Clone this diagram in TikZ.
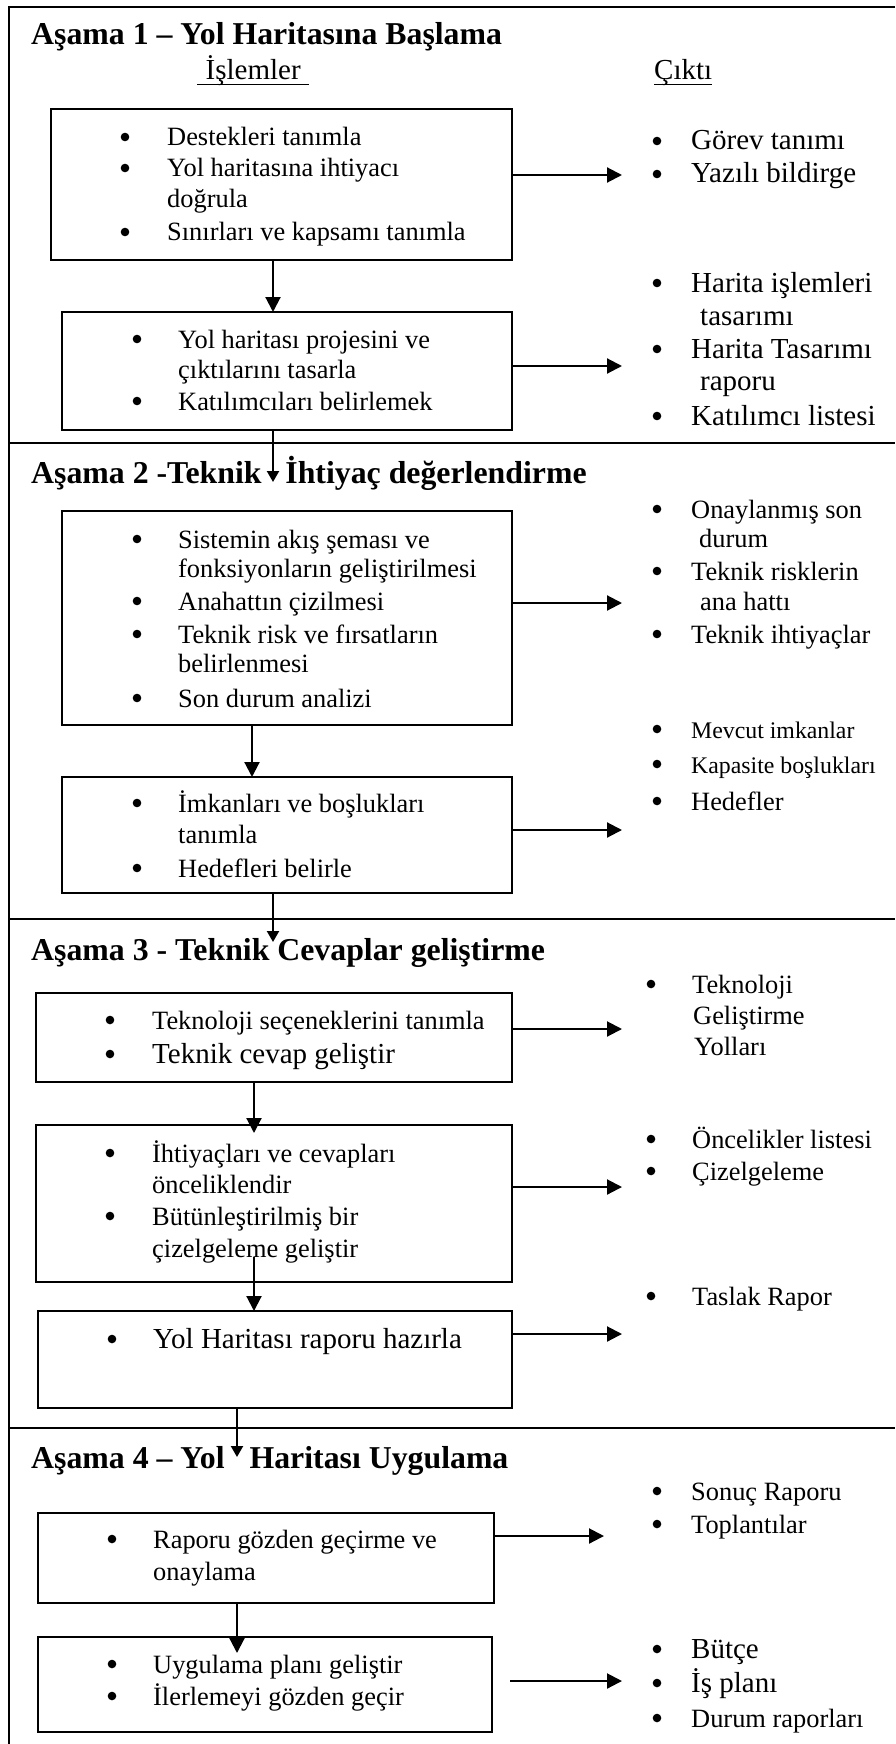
\documentclass[tikz,border=0pt]{standalone}
\usepackage{fontspec}
\setmainfont{Liberation Serif}
\usetikzlibrary{arrows.meta}

% type sizes used in the chart
\newcommand\Sz{\fontsize{26.4}{31}\selectfont}
\newcommand\Lz{\fontsize{29}{34}\selectfont}
\newcommand\Tz{\fontsize{23.8}{28}\selectfont}

\tikzset{
  frameline/.style={line width=2.8pt},
  stagebox/.style={draw, line width=1.9pt, anchor=north west, inner sep=0pt, outer sep=0pt},
  heading/.style={anchor=base west, inner sep=0pt, font=\fontsize{31.8}{38}\selectfont\bfseries},
  colhead/.style={anchor=base west, inner ysep=0pt, inner xsep=0pt, font=\Lz},
  txt/.style={anchor=base west, inner sep=0pt, font=\Sz},
  big/.style={font=\Lz},
  small/.style={font=\Tz},
  dot/.style={circle, fill, inner sep=0pt, minimum size=8.6pt},
  flow/.style={line width=2.1pt, -{Triangle[length=15pt,width=15pt]}},
  flowsmall/.style={line width=2.1pt, -{Triangle[length=11pt,width=12pt]}},
  ulin/.style={line width=1.5pt},
}

% bulleted line: [options] name, bullet x, text x, baseline, text
\newcommand\bitem[6][]{%
  \node[dot] (#2d) at (#3,#5-9) {};
  \node[txt,#1] (#2) at (#4,#5) {#6};}
% continuation line: [options] name, x, baseline, text
\newcommand\contline[5][]{%
  \node[txt,#1] (#2) at (#3,#4) {#5};}

\begin{document}
\begin{tikzpicture}[x=1pt, y=-1pt]
\useasboundingbox (0,0) rectangle (895,1744);

% outer frame and stage dividers
\draw[frameline] (895,7) -- (9,7) -- (9,1744);
\draw[frameline] (9,443) -- (895,443);
\draw[frameline] (9,919) -- (895,919);
\draw[frameline] (9,1428) -- (895,1428);

% ---------------- Stage 1 ----------------
\node[heading] (s1) at (31,45) {Aşama 1 – Yol Haritasına Başlama};
\node[colhead, inner xsep=8.5pt] (islem) at (197,80) {İşlemler};
\node[colhead] (cikti) at (654,80) {Çıktı};
\draw[ulin] ([yshift=-4.3pt]islem.base west) -- ([yshift=-4.3pt]islem.base east);
\draw[ulin] ([yshift=-4.3pt]cikti.base west) -- ([yshift=-4.3pt]cikti.base east);

\node[stagebox, minimum width=461pt, minimum height=151pt] (b1) at (51,109) {};
\bitem{p1a}{125}{167}{146}{Destekleri tanımla}
\bitem{p1b}{125}{167}{177}{Yol haritasına ihtiyacı}
\contline{p1c}{167}{208}{doğrula}
\bitem{p1d}{125}{167}{241}{Sınırları ve kapsamı tanımla}

\node[stagebox, minimum width=450pt, minimum height=118pt] (b2) at (62,312) {};
\bitem{p2a}{137}{178}{348}{Yol haritası projesini ve}
\contline{p2b}{178}{378}{çıktılarını tasarla}
\bitem{p2c}{137}{178}{410}{Katılımcıları belirlemek}

\bitem[big]{o1a}{657}{691}{150}{Görev tanımı}
\bitem[big]{o1b}{657}{691}{183}{Yazılı bildirge}

\bitem[big]{o2a}{657}{691}{292}{Harita işlemleri}
\contline[big]{o2b}{700}{325}{tasarımı}
\bitem[big]{o2c}{657}{691}{358}{Harita Tasarımı}
\contline[big]{o2d}{700}{390}{raporu}
\bitem[big]{o2e}{657}{691}{425}{Katılımcı listesi}

% ---------------- Stage 2 ----------------
\node[heading] (s2) at (31,483) {Aşama 2 -Teknik\hspace{16pt} İhtiyaç değerlendirme};

\node[stagebox, minimum width=450pt, minimum height=214pt] (b3) at (62,511) {};
\bitem{p3a}{137}{178}{548}{Sistemin akış şeması ve}
\contline{p3b}{178}{577}{fonksiyonların geliştirilmesi}
\bitem{p3c}{137}{178}{610}{Anahattın çizilmesi}
\bitem{p3d}{137}{178}{643}{Teknik risk ve fırsatların}
\contline{p3e}{178}{672}{belirlenmesi}
\bitem{p3f}{137}{178}{707}{Son durum analizi}

\node[stagebox, minimum width=450pt, minimum height=116pt] (b4) at (62,777) {};
\bitem{p4a}{137}{178}{812}{İmkanları ve boşlukları}
\contline{p4b}{178}{843}{tanımla}
\bitem{p4c}{137}{178}{877}{Hedefleri belirle}

\bitem{o3a}{657}{691}{518}{Onaylanmış son}
\contline{o3b}{699}{547}{durum}
\bitem{o3c}{657}{691}{580}{Teknik risklerin}
\contline{o3d}{700}{610}{ana hattı}
\bitem{o3e}{657}{691}{643}{Teknik ihtiyaçlar}

\bitem[small]{o4a}{657}{691}{738}{Mevcut imkanlar}
\bitem[small]{o4b}{657}{691}{773}{Kapasite boşlukları}
\bitem{o4c}{657}{691}{810}{Hedefler}

% ---------------- Stage 3 ----------------
\node[heading] (s3) at (31,960) {Aşama 3 - Teknik Cevaplar geliştirme};

\node[stagebox, minimum width=476pt, minimum height=89pt] (b5) at (36,993) {};
\bitem{p5a}{110}{152}{1029}{Teknoloji seçeneklerini tanımla}
\bitem[big]{p5b}{110}{152}{1063}{Teknik cevap geliştir}

\node[stagebox, minimum width=476pt, minimum height=157pt] (b6) at (36,1125) {};
\bitem{p6a}{110}{152}{1162}{İhtiyaçları ve cevapları}
\contline{p6b}{152}{1193}{önceliklendir}
\bitem{p6c}{110}{152}{1225}{Bütünleştirilmiş bir}
\contline{p6d}{152}{1257}{çizelgeleme geliştir}

\node[stagebox, minimum width=474pt, minimum height=97pt] (b7) at (38,1311) {};
\bitem[big]{p7a}{112}{153}{1348}{Yol Haritası raporu hazırla}

\bitem{o5a}{651}{692}{993}{Teknoloji}
\contline{o5b}{693}{1024}{Geliştirme}
\contline{o5c}{694}{1055}{Yolları}

\bitem{o6a}{651}{692}{1148}{Öncelikler listesi}
\bitem{o6b}{651}{692}{1180}{Çizelgeleme}

\bitem{o7a}{651}{692}{1305}{Taslak Rapor}

% ---------------- Stage 4 ----------------
\node[heading] (s4) at (31,1468) {Aşama 4 – Yol\hspace{17pt} Haritası Uygulama};

\node[stagebox, minimum width=456pt, minimum height=90pt] (b8) at (38,1513) {};
\bitem{p8a}{112}{153}{1548}{Raporu gözden geçirme ve}
\contline{p8b}{153}{1580}{onaylama}

\node[stagebox, minimum width=454pt, minimum height=95pt] (b9) at (38,1637) {};
\bitem{p9a}{112}{153}{1673}{Uygulama planı geliştir}
\bitem{p9b}{112}{153}{1705}{İlerlemeyi gözden geçir}

\bitem{o8a}{657}{691}{1500}{Sonuç Raporu}
\bitem{o8b}{657}{691}{1533}{Toplantılar}

\bitem[big]{o9a}{657}{691}{1658}{Bütçe}
\bitem[big]{o9b}{657}{691}{1692}{İş planı}
\bitem{o9c}{657}{691}{1727}{Durum raporları}

% ---------------- connectors ----------------
% arrow end points
\coordinate (v12) at (273,0);
\coordinate (v34) at (252,0);
\coordinate (v56) at (254,0);
\coordinate (v67) at (254,1257);
\coordinate (v89) at (237,0);
\coordinate (h2) at (273,482);
\coordinate (h3) at (273,942);
\coordinate (h4) at (237,1457);
\coordinate (r1) at (622,175);
\coordinate (r2) at (622,366);
\coordinate (r3) at (622,603);
\coordinate (r4) at (622,830);
\coordinate (r5) at (622,1029);
\coordinate (r6) at (622,1187);
\coordinate (r7) at (622,1334);
\coordinate (r8) at (604,1536);
\coordinate (r9) at (622,1681);

% downward flow between process boxes
\draw[flow] (b1.south -| v12) -- (b2.north -| v12);
\draw[flow] (b3.south -| v34) -- (b4.north -| v34);
\draw[flow, shorten >=-8pt] (b5.south -| v56) -- (b6.north -| v56);
\draw[flow] (v67) -- (b7.north -| v67);
\draw[flow, shorten >=-16pt] (b8.south -| v89) -- (b9.north -| v89);

% flow into the next stage
\draw[flowsmall] (b2.south -| h2) -- (h2);
\draw[flowsmall] (b4.south -| h3) -- (h3);
\draw[flowsmall] (b7.south -| h4) -- (h4);

% process to output
\draw[flow] (b1.east |- r1) -- (r1);
\draw[flow] (b2.east |- r2) -- (r2);
\draw[flow] (b3.east |- r3) -- (r3);
\draw[flow] (b4.east |- r4) -- (r4);
\draw[flow] (b5.east |- r5) -- (r5);
\draw[flow] (b6.east |- r6) -- (r6);
\draw[flow] (b7.east |- r7) -- (r7);
\draw[flow] (b8.east |- r8) -- (r8);
\draw[flow, shorten <=18pt] (b9.east |- r9) -- (r9);
\end{tikzpicture}
\end{document}
